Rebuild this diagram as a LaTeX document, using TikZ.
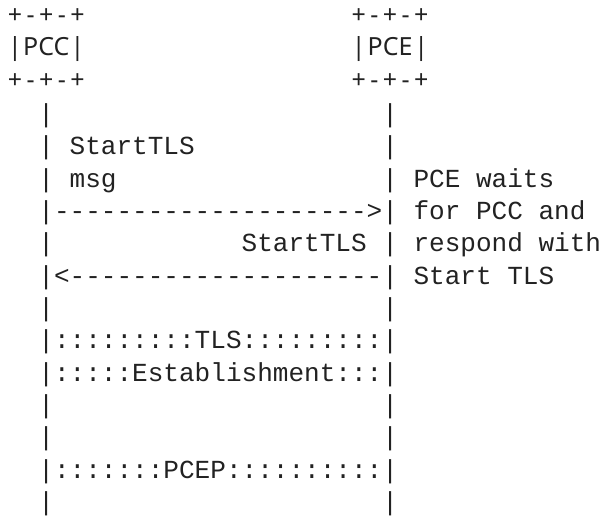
\documentclass[tikz,border=0pt]{standalone}
\usepackage{fontspec}
\setmonofont{Liberation Mono}
\newfontfamily\boxfont{Noto Sans}
\definecolor{ink}{RGB}{34,34,34}
\newcommand\colx[1]{7.185+15.63*#1}
\newcommand\colc[1]{15+15.63*#1}
\newcommand\rowy[1]{155+32.33*(#1-5)}
\begin{document}
\begin{tikzpicture}[x=1pt,y=-1pt,
  mono/.style={anchor=base west, inner sep=0pt, outer sep=0pt, text=ink,
    font=\ttfamily\fontsize{26.05}{30}\selectfont},
  boxch/.style={anchor=base, inner sep=0pt, outer sep=0pt, text=ink,
    font=\boxfont\fontsize{25}{30}\selectfont}]
\useasboundingbox (0,0) rectangle (605,518);
% --- top boxes (PCC at columns 0-4, PCE at columns 22-26)
\foreach \name/\c in {pcc/0,pce/22}{
  \foreach \k/\ch in {0/+,1/-,2/+,3/-,4/+}{
    \node[boxch] (\name top\k) at ({\colc{(\c+\k)}},23.8) {\ch};
    \node[boxch] (\name bot\k) at ({\colc{(\c+\k)}},88.8) {\ch};
  }
  \node[boxch] (\name L) at ({\colc{\c}},56) {|};
  \node[boxch] (\name R) at ({\colc{(\c+4)}},56) {|};
}
\node[boxch] (pcclabel) at ({\colc{2}},56) {PCC};
\node[boxch] (pcelabel) at ({\colc{24}},56) {PCE};
% --- lifelines, rows with plain bars
\foreach \r in {4,5,6,8,10,13,14,16}{
  \node[mono] (lbar\r) at ({\colx{2}},{\rowy{\r}}) {|};
  \node[mono] (rbar\r) at ({\colx{24}},{\rowy{\r}}) {|};
}
% --- messages
\node[mono] (msgA1) at ({\colx{4}},{\rowy{5}}) {StartTLS};
\node[mono] (msgA2) at ({\colx{4}},{\rowy{6}}) {msg};
\node[mono] (arrowA) at ({\colx{2}},{\rowy{7}}) {|-------------------->|};
\node[mono] (msgB) at ({\colx{15}},{\rowy{8}}) {StartTLS};
\node[mono] (arrowB) at ({\colx{2}},{\rowy{9}}) {|<--------------------|};
% --- note on the right
\node[mono] (note1) at ({\colx{26}},{\rowy{6}}) {PCE waits};
\node[mono] (note2) at ({\colx{26}},{\rowy{7}}) {for PCC and};
\node[mono] (note3) at ({\colx{26}},{\rowy{8}}) {respond with};
\node[mono] (note4) at ({\colx{26}},{\rowy{9}}) {Start TLS};
% --- TLS establishment and PCEP
\node[mono] (tls1) at ({\colx{2}},{\rowy{11}}) {|:::::::::TLS:::::::::|};
\node[mono] (tls2) at ({\colx{2}},{\rowy{12}}) {|:::::Establishment:::|};
\node[mono] (pcep) at ({\colx{2}},{\rowy{15}}) {|:::::::PCEP::::::::::|};
\end{tikzpicture}
\end{document}
